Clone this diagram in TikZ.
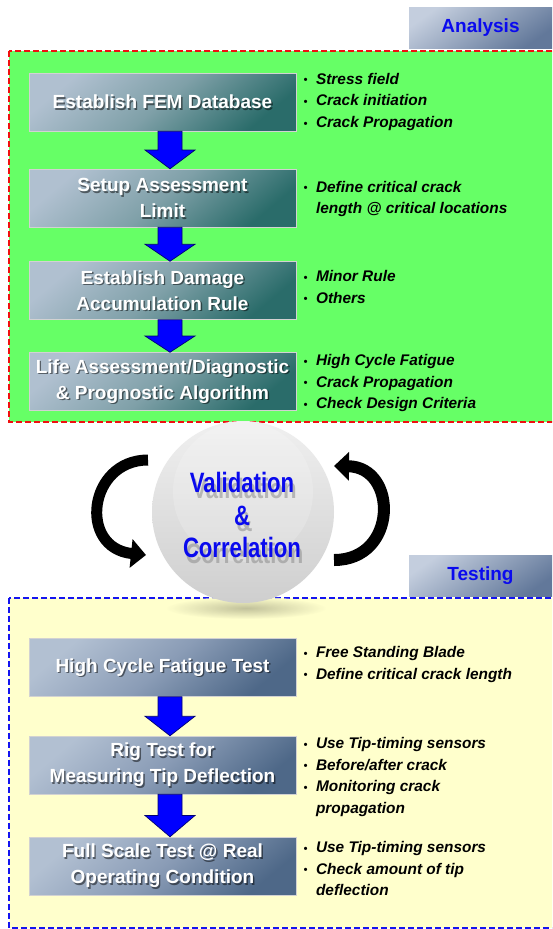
\documentclass[tikz,border=0pt]{standalone}
\usepackage{fontspec}
\setmainfont{Liberation Sans}
\usepackage{graphicx}
\usetikzlibrary{arrows.meta,calc}
\definecolor{grnbg}{HTML}{66FF66}
\definecolor{ylwbg}{HTML}{FFFFCC}
\definecolor{dred}{HTML}{F01010}
\definecolor{dblue}{HTML}{1414F0}
\definecolor{aLight}{HTML}{B0C0D0}
\definecolor{aMid}{HTML}{7FA0A8}
\definecolor{aDark}{HTML}{2A6C6A}
\definecolor{tLight}{HTML}{B2C0D2}
\definecolor{tMid}{HTML}{8A9CB6}
\definecolor{tDark}{HTML}{4E6888}
\definecolor{tabLight}{HTML}{C4CEDE}
\definecolor{tabDark}{HTML}{62789A}
\definecolor{txtblue}{HTML}{0A0AEE}
\newcommand\boxfont{\fontsize{19}{26}\selectfont\bfseries}
\newcommand\bul{{\fontsize{11}{11}\selectfont\raisebox{0.4pt}{•}}}
\newcommand\sx[1]{\scalebox{0.79}[1]{#1}}
\newcommand\flowbox[4]{\node[#1, path picture={\node[boxshade] at ([xshift=1.4pt,yshift=-1.6pt]path picture bounding box.center) {#4};}] (#2) at #3 {#4};}
\newcommand\blockarrow[2]{\filldraw[blockarr] let \p1=([xshift=7.5pt]#1.south), \p2=([xshift=7.5pt]#2.north), \p3=($(\p1)!0.5!(\p2)$) in (\x1-12pt,\y1) -- (\x1+12pt,\y1) -- (\x1+12pt,\y3) -- (\x1+25pt,\y3) -- (\x1,\y2) -- (\x1-25pt,\y3) -- (\x1-12pt,\y3) -- cycle;}
\newcommand\blist[3]{\node[bullets] (#1) at #2 {\begin{tabular}[t]{@{}l@{\hspace{8.5pt}}l@{}}#3\end{tabular}};}
\newcommand\vctext{\sx{Validation}\\\sx{\&}\\\sx{Correlation}}
\begin{document}
\begin{tikzpicture}[x=1pt,y=-1pt,
  abox/.style={draw=gray!35, line width=0.5pt, minimum width=267pt, minimum height=58pt, inner sep=2pt, top color=aLight, bottom color=aDark, middle color=aMid, shading angle=40, text=white, font=\boxfont, align=center},
  tbox/.style={draw=gray!35, line width=0.5pt, minimum width=267pt, minimum height=58pt, inner sep=2pt, top color=tLight, bottom color=tDark, middle color=tMid, shading angle=40, text=white, font=\boxfont, align=center},
  boxshade/.style={text=black, opacity=0.5, font=\boxfont, align=center, inner sep=2pt},
  blockarr/.style={fill=blue, draw=blue!45!black, line width=0.7pt, line join=miter},
  bullets/.style={font=\fontsize{15.4}{21.7}\selectfont\bfseries\itshape, inner sep=0pt, anchor=base west},
  tab/.style={minimum width=143pt, minimum height=41pt, inner sep=0pt, top color=tabLight, bottom color=tabDark, shading angle=35, text=txtblue, font=\fontsize{19}{19}\selectfont\bfseries},
  circtext/.style={text=txtblue, font=\fontsize{28}{32.5}\selectfont\bfseries, align=center, inner sep=0pt},
  circshadow/.style={text=black!45, opacity=0.55, font=\fontsize{28}{32.5}\selectfont\bfseries, align=center, inner sep=0pt},
  sphere/.style={circle, minimum size=182pt, inner sep=0pt, top color=gray!12, bottom color=gray!38},
  curvarr/.style={line width=11pt, -{Triangle[length=15pt,width=28pt]}, black},
  dashbox/.style={line width=1.8pt, dash pattern=on 6pt off 3pt}
]
\useasboundingbox (0,0) rectangle (552,929);
\clip (0,0) rectangle (552,929);
\fill[white] (0,0) rectangle (552,929);

% panels
\draw[dashbox, draw=dred, fill=grnbg] (9,51) rectangle (562,422);
\draw[dashbox, draw=dblue, fill=ylwbg] (9,598) rectangle (562,928);

% tabs
\node[tab] (atab) at (480.5,27.5) {Analysis\hspace{26pt}};
\node[tab] (ttab) at (480.5,575.5) {Testing\hspace{25pt}};

% analysis boxes
\flowbox{abox}{a1}{(162.5,102)}{Establish FEM Database}
\flowbox{abox}{a2}{(162.5,198)}{Setup Assessment\\Limit}
\flowbox{abox}{a3}{(162.5,290.5)}{Establish Damage\\Accumulation Rule}
\flowbox{abox}{a4}{(162.5,381.5)}{Life Assessment/Diagnostic\\\& Prognostic Algorithm}
\blockarrow{a1}{a2}
\blockarrow{a2}{a3}
\blockarrow{a3}{a4}

\blist{b1}{(303.5,84)}{\bul & Stress field\\ \bul & Crack initiation\\ \bul & Crack Propagation}
\blist{b2}{(303.5,192)}{\bul & Define critical crack\\ & length @ critical locations}
\blist{b3}{(303.5,281.5)}{\bul & Minor Rule\\ \bul & Others}
\blist{b4}{(303.5,365.5)}{\bul & High Cycle Fatigue\\ \bul & Crack Propagation\\ \bul & Check Design Criteria}

% testing boxes
\flowbox{tbox}{t1}{(162.5,667.5)}{High Cycle Fatigue Test}
\flowbox{tbox}{t2}{(162.5,765)}{Rig Test for\\Measuring Tip Deflection}
\flowbox{tbox}{t3}{(162.5,866)}{Full Scale Test @ Real\\Operating Condition}
\blockarrow{t1}{t2}
\blockarrow{t2}{t3}

\blist{c1}{(303.5,657.5)}{\bul & Free Standing Blade\\ \bul & Define critical crack length}
\blist{c2}{(303.5,748.5)}{\bul & Use Tip-timing sensors\\ \bul & Before/after crack\\ \bul & Monitoring crack\\ & propagation}
\blist{c3}{(303.5,852.5)}{\bul & Use Tip-timing sensors\\ \bul & Check amount of tip\\ & deflection}

% sphere
\shade[inner color=black!30!ylwbg, outer color=ylwbg, opacity=0.8] (246,608) ellipse (80pt and 11pt);
\node[sphere, path picture={
    \fill[white, opacity=0.18] ([yshift=20pt]path picture bounding box.center) circle (70pt);
    \node[circshadow] at ([xshift=1.5pt,yshift=-9pt]path picture bounding box.center) {\vctext};
  }] (sph) at (243,512) {};
\node[circtext] (vc) at (242,515) {\vctext};

% curved arrows
\coordinate (l1) at (148,460);
\coordinate (l2) at (146,555);
\coordinate (r1) at (334,560);
\coordinate (r2) at (334,466);
\draw[curvarr] (l1) .. controls (88,460) and (78,548) .. (l2);
\draw[curvarr, line width=12pt] (r1) .. controls (398,560) and (398,467) .. (r2);
\end{tikzpicture}
\end{document}
